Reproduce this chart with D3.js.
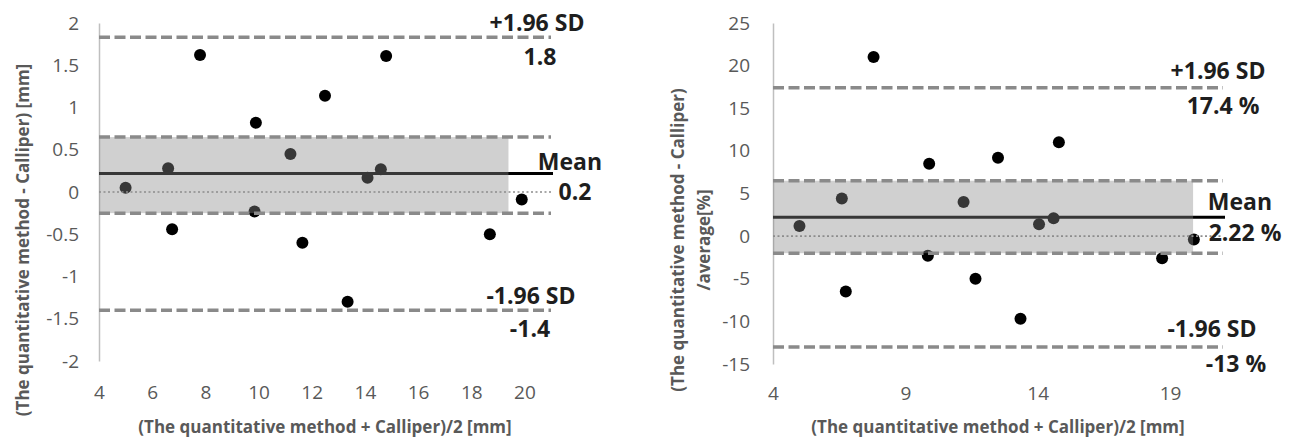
<!DOCTYPE html>
<html>
<head>
	<meta charset="utf-8">
	<script src="https://cdnjs.cloudflare.com/ajax/libs/d3/7.8.5/d3.min.js"></script>
	<style>
		body { margin: 0; background: #fff; }
		svg { display: block; }
		.tick text { font-family: "Open Sans", sans-serif; font-size: 19px; fill: #595959; }
		.title { font-family: "Open Sans", sans-serif; font-size: 17px; font-weight: bold; fill: #595959; }
		.lbl { font-family: "Open Sans", sans-serif; font-size: 23px; font-weight: bold; fill: #1e1e1e; }
	</style>
</head>
<body>
	<svg width="1296" height="440" id="chart"></svg>
	<script>
	//left chart: difference in mm
	var leftAvg  = [5.0, 6.6, 6.75, 7.8, 9.9, 9.85, 11.2, 11.65, 12.5, 13.35, 14.1, 14.6, 14.8, 18.7, 19.9];
	var leftDiff = [0.05, 0.28, -0.44, 1.62, 0.82, -0.23, 0.45, -0.6, 1.14, -1.3, 0.17, 0.27, 1.61, -0.5, -0.09];
	var leftYTicks = [-2, -1.5, -1, -0.5, 0, 0.5, 1, 1.5, 2];
	var leftXTicks = [4, 6, 8, 10, 12, 14, 16, 18, 20];
	var leftStats = {mean: 0.22, upper: 1.83, lower: -1.4, bandTop: 0.65, bandBottom: -0.25, bandEnd: 19.4};
	var leftLabels = ["+1.96 SD", "1.8", "Mean", "0.2", "-1.96 SD", "-1.4"];

	//right chart: difference in %
	var rightAvg  = [5.0, 6.6, 6.75, 7.8, 9.9, 9.85, 11.2, 11.65, 12.5, 13.35, 14.05, 14.6, 14.8, 18.7, 19.9];
	var rightDiff = [1.2, 4.4, -6.5, 21.0, 8.5, -2.3, 4.0, -5.0, 9.2, -9.7, 1.4, 2.1, 11.0, -2.6, -0.4];
	var rightYTicks = [-15, -10, -5, 0, 5, 10, 15, 20, 25];
	var rightXTicks = [4, 9, 14, 19];
	var rightStats = {mean: 2.22, upper: 17.4, lower: -13, bandTop: 6.5, bandBottom: -2.0, bandEnd: 19.87};
	var rightLabels = ["+1.96 SD", "17.4 %", "Mean", "2.22 %", "-1.96 SD", "-13 %"];

	var svg = d3.select("svg");

	function drawChart(cfg) {
		var x = d3.scaleLinear().domain([4, 21]).range(cfg.xRange),
			y = d3.scaleLinear().domain(cfg.yDomain).range(cfg.yRange);
		var g = svg.append("g");
		var st = cfg.stats;
		var x0 = x(4), x1 = x(21);

		//y axis
		g.append("g")
			.attr("transform", "translate(" + x0 + ",0)")
			.call(d3.axisLeft(y).tickValues(cfg.yTicks).tickSize(0).tickPadding(cfg.yPad).tickFormat(function(d) { return String(d); }))
			.call(function(a) { a.select(".domain").attr("stroke", "#bfbfbf").attr("stroke-width", 1.5); })
			.attr("font-family", null).attr("font-size", null);

		//x axis labels only
		g.append("g")
			.attr("transform", "translate(0," + y(cfg.yDomain[0]) + ")")
			.call(d3.axisBottom(x).tickValues(cfg.xTicks).tickSize(0).tickPadding(cfg.xPad))
			.call(function(a) { a.select(".domain").remove(); })
			.attr("font-family", null).attr("font-size", null);

		//points
		g.selectAll(".dot")
			.data(cfg.avg.map(function(d, i) { return [d, cfg.diff[i]]; }))
			.enter().append("circle")
			.attr("cx", function(d) { return x(d[0]); })
			.attr("cy", function(d) { return y(d[1]); })
			.attr("r", 6)
			.attr("fill", "#000");

		//mean line
		g.append("line")
			.attr("x1", x0).attr("x2", x1 + 2)
			.attr("y1", y(st.mean)).attr("y2", y(st.mean))
			.attr("stroke", "#000").attr("stroke-width", 3);

		//semi transparent band on top
		g.append("rect")
			.attr("x", x0)
			.attr("y", y(st.bandTop))
			.attr("width", x(st.bandEnd) - x0)
			.attr("height", y(st.bandBottom) - y(st.bandTop))
			.attr("fill", "rgba(137,137,137,0.4)");

		//zero dotted line
		g.append("line")
			.attr("x1", x0).attr("x2", x1)
			.attr("y1", y(0)).attr("y2", y(0))
			.attr("stroke", "#8c8c8c").attr("stroke-width", 1.6)
			.attr("stroke-dasharray", "2,2.5");

		//dashed limit lines
		[st.upper, st.bandTop, st.bandBottom, st.lower].forEach(function(v) {
			g.append("line")
				.attr("x1", x0).attr("x2", x1)
				.attr("y1", y(v)).attr("y2", y(v))
				.attr("stroke", "#8a8a8a").attr("stroke-width", 3.5)
				.attr("stroke-dasharray", "11,4.5");
		});

		//labels next to lines
		var lv = [st.upper, st.upper, st.mean, st.mean, st.lower, st.lower];
		g.selectAll(".lbl")
			.data(cfg.labels)
			.enter().append("text")
			.attr("class", "lbl")
			.attr("x", function(d, i) { return cfg.lblX[i]; })
			.attr("y", function(d, i) { return y(lv[i]) + cfg.lblDy[i]; })
			.attr("text-anchor", "middle")
			.attr("dominant-baseline", "central")
			.text(function(d) { return d; });

		//x title
		g.append("text")
			.attr("class", "title")
			.attr("x", (x0 + x1) / 2)
			.attr("y", 426)
			.attr("text-anchor", "middle")
			.attr("dominant-baseline", "central")
			.text("(The quantitative method + Calliper)/2 [mm]");

		//y title
		cfg.yTitle.forEach(function(t, i) {
			g.append("text")
				.attr("class", "title")
				.attr("transform", "translate(" + cfg.yTitleX[i] + ",240) rotate(-90)")
				.attr("text-anchor", "middle")
				.attr("dominant-baseline", "central")
				.text(t);
		});
	}

	drawChart({
		xRange: [99, 551], yDomain: [-2, 2], yRange: [361, 23],
		yTicks: leftYTicks, xTicks: leftXTicks, yPad: 20, xPad: 25,
		avg: leftAvg, diff: leftDiff, stats: leftStats, labels: leftLabels,
		lblX: [537, 540, 570, 575, 531, 530],
		lblDy: [-15, 19, -12, 18, -15, 18],
		yTitle: ["(The quantitative method - Calliper) [mm]"], yTitleX: [22]
	});

	drawChart({
		xRange: [773, 1223], yDomain: [-15, 25], yRange: [364, 23],
		yTicks: rightYTicks, xTicks: rightXTicks, yPad: 23, xPad: 23,
		avg: rightAvg, diff: rightDiff, stats: rightStats, labels: rightLabels,
		lblX: [1218, 1223, 1240, 1245, 1212, 1236],
		lblDy: [-18, 17, -16, 15, -19, 16],
		yTitle: ["(The quantitative method - Calliper)", "/average[%]"], yTitleX: [677, 703]
	});
	</script>
</body>
</html>
